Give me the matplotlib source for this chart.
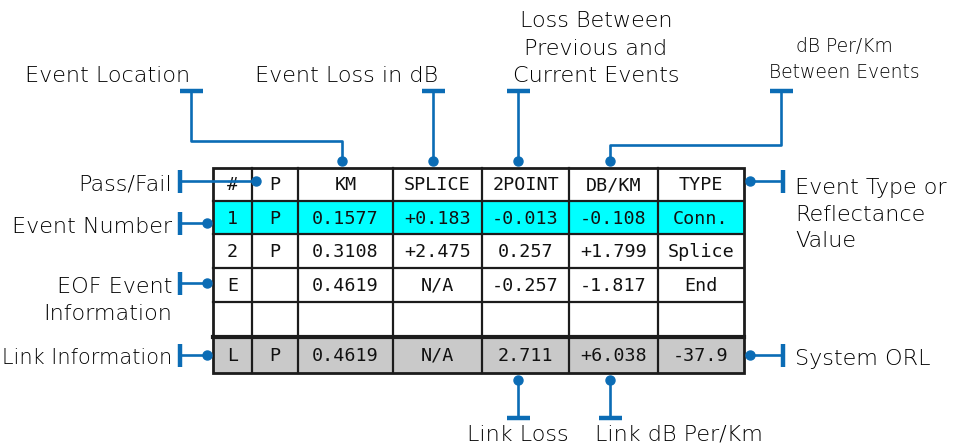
#!/usr/bin/env python3
"""
Annotated OTDR event table: table of events with blue callouts
explaining each column / row.
"""

import matplotlib

matplotlib.use("Agg")
import matplotlib.pyplot as plt
from matplotlib.patches import Rectangle

# ---- table content -------------------------------------------------------
headers = ["#", "P", "KM", "SPLICE", "2POINT", "DB/KM", "TYPE"]
row_event1 = ["1", "P", "0.1577", "+0.183", "-0.013", "-0.108", "Conn."]
row_event2 = ["2", "P", "0.3108", "+2.475", "0.257", "+1.799", "Splice"]
row_eof = ["E", "", "0.4619", "N/A", "-0.257", "-1.817", "End"]
row_blank = ["", "", "", "", "", "", ""]
row_link = ["L", "P", "0.4619", "N/A", "2.711", "+6.038", "-37.9"]
rows = [headers, row_event1, row_event2, row_eof, row_blank, row_link]
row_fills = ["white", "#00FFFF", "white", "white", "white", "#C9C9C9"]

# ---- callout labels ------------------------------------------------------
top_labels = [
    ["Event Location"],
    ["Event Loss in dB"],
    ["Loss Between", "Previous and", "Current Events"],
    ["dB Per/Km", "Between Events"],
]
left_labels = [["Pass/Fail"], ["Event Number"], ["EOF Event", "Information"], ["Link Information"]]
right_labels = [["Event Type or", "Reflectance", "Value"], ["System ORL"]]
bottom_labels = [["Link Loss"], ["Link dB Per/Km"]]

# ---- layout (pixel coordinates) -----------------------------------------
COL_EDGES = [213, 252, 298, 393, 482, 569, 658, 744]
ROW_EDGES = [168, 201, 234, 268, 302, 337, 373]
BLUE = "#0B6CB5"
INK = "#1c1c1c"
LABEL_FONT = dict(family="DejaVu Sans", fontsize=16, color="#000000", fontweight="light")
NARROW_FONT = dict(family="DejaVu Sans", fontsize=13.5, color="#000000", fontweight="light")
CELL_FONT = dict(family="DejaVu Sans Mono", fontsize=13.2, color="#111111")


def callout(ax, points, bar_len=23):
    """Blue polyline with a dot on the first point and a T-bar on the last."""
    xs = [p[0] for p in points]
    ys = [p[1] for p in points]
    ax.plot(xs, ys, color=BLUE, lw=1.9, solid_capstyle="butt", zorder=5)
    ax.plot(xs[0], ys[0], "o", color=BLUE, ms=6.5, zorder=6)
    (x0, y0), (x1, y1) = points[-2], points[-1]
    h = bar_len / 2
    if x0 == x1:  # vertical end -> horizontal bar
        ax.plot([x1 - h, x1 + h], [y1, y1], color=BLUE, lw=3.2, solid_capstyle="butt", zorder=5)
    else:
        ax.plot([x1, x1], [y1 - h, y1 + h], color=BLUE, lw=3.2, solid_capstyle="butt", zorder=5)


def draw_lines(ax, lines, x, baselines, ha, **kw):
    for line, yb in zip(lines, baselines):
        ax.text(x, yb, line, ha=ha, va="baseline", **kw)


def main() -> int:
    fig = plt.figure(figsize=(9.71, 4.46), dpi=100)
    ax = fig.add_axes([0, 0, 1, 1])
    ax.set_xlim(0, 971)
    ax.set_ylim(446, 0)
    ax.axis("off")

    # Table fills and text
    for r, (cells, fill) in enumerate(zip(rows, row_fills)):
        y0, y1 = ROW_EDGES[r], ROW_EDGES[r + 1]
        ax.add_patch(Rectangle((COL_EDGES[0], y0), COL_EDGES[-1] - COL_EDGES[0], y1 - y0,
                               facecolor=fill, edgecolor="none", zorder=1))
        for c, txt in enumerate(cells):
            xc = (COL_EDGES[c] + COL_EDGES[c + 1]) / 2
            ax.text(xc, (y0 + y1) / 2 + 1, txt, ha="center", va="center", zorder=3, **CELL_FONT)

    # Grid lines
    for y in ROW_EDGES[1:-1]:
        lw = 3.0 if y == ROW_EDGES[-2] else 1.6
        ax.plot([COL_EDGES[0], COL_EDGES[-1]], [y, y], color=INK, lw=lw, zorder=2)
    for x in COL_EDGES[1:-1]:
        ax.plot([x, x], [ROW_EDGES[0], ROW_EDGES[-1]], color=INK, lw=1.6, zorder=2)
    ax.add_patch(Rectangle((COL_EDGES[0], ROW_EDGES[0]), COL_EDGES[-1] - COL_EDGES[0],
                           ROW_EDGES[-1] - ROW_EDGES[0], facecolor="none",
                           edgecolor=INK, lw=2.0, zorder=2))

    # Top callouts
    draw_lines(ax, top_labels[0], 108, [82], "center", **LABEL_FONT)
    draw_lines(ax, top_labels[1], 347, [82], "center", **LABEL_FONT)
    draw_lines(ax, top_labels[2], 596, [27, 55, 82], "center", **LABEL_FONT)
    draw_lines(ax, top_labels[3], 844, [52, 78], "center", **NARROW_FONT)
    callout(ax, [(342, 161), (342, 141), (191, 141), (191, 91)])
    callout(ax, [(433, 161), (433, 91)])
    callout(ax, [(518, 161), (518, 91)])
    callout(ax, [(610, 161), (610, 145), (781, 145), (781, 91)])

    # Left callouts
    draw_lines(ax, left_labels[0], 172, [190], "right", **LABEL_FONT)
    draw_lines(ax, left_labels[1], 172, [233], "right", **LABEL_FONT)
    draw_lines(ax, left_labels[2], 172, [293, 320], "right", **LABEL_FONT)
    draw_lines(ax, left_labels[3], 172, [364], "right", **dict(LABEL_FONT, fontsize=15))
    callout(ax, [(256, 181), (180, 181)])
    callout(ax, [(207, 223), (180, 223)])
    callout(ax, [(207, 283), (180, 283)])
    callout(ax, [(207, 355), (180, 355)])

    # Right callouts
    draw_lines(ax, right_labels[0], 795, [194, 221, 247], "left", **LABEL_FONT)
    draw_lines(ax, right_labels[1], 795, [365], "left", **LABEL_FONT)
    callout(ax, [(750, 181), (783, 181)])
    callout(ax, [(750, 355), (783, 355)])

    # Bottom callouts
    draw_lines(ax, bottom_labels[0], 518, [441], "center", **LABEL_FONT)
    draw_lines(ax, bottom_labels[1], 595, [440], "left", **LABEL_FONT)
    callout(ax, [(518, 380), (518, 418)])
    callout(ax, [(610, 380), (610, 418)])

    fig.savefig("out.png", dpi=100, facecolor="white")
    plt.close(fig)
    return 0


if __name__ == "__main__":
    raise SystemExit(main())
